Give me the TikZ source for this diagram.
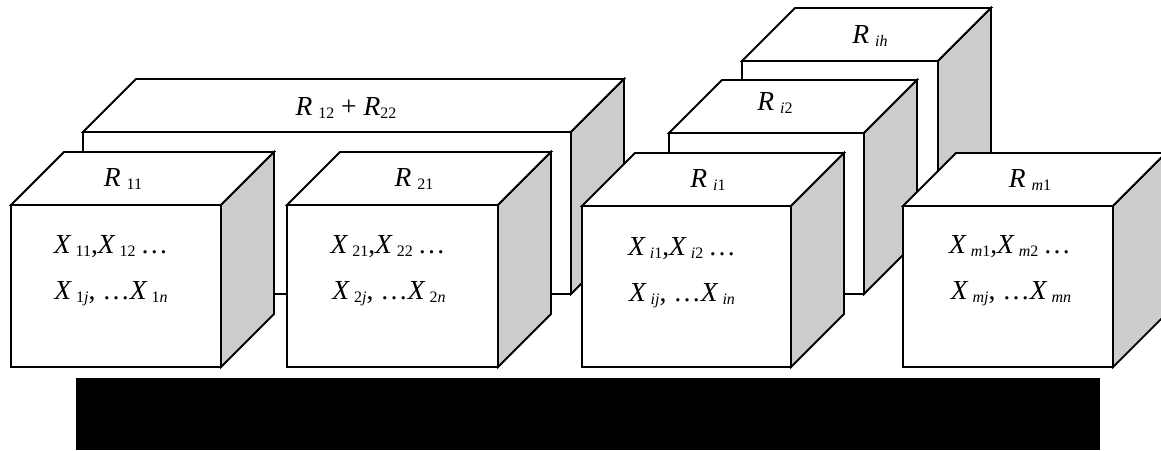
\documentclass[tikz,border=0pt]{standalone}
\usepackage{fontspec}
\setmainfont{Liberation Serif}
\definecolor{sidegrey}{RGB}{204,204,204}
\newcommand\lo[1]{\raisebox{-3pt}{\fontsize{16}{16}\selectfont #1}}
\newcommand\cubebox[4]{%
  \path[boxline,fill=white] (#1,#2) rectangle ++(#3,#4);
  \path[boxline,fill=white] (#1,#2) -- ++(53,-53) -- ++(#3,0) -- ++(-53,53) -- cycle;
  \path[boxline,fill=sidegrey] (#1+#3,#2) -- ++(53,-53) -- ++(0,#4) -- ++(-53,53) -- cycle;
}
\begin{document}
\begin{tikzpicture}[x=1pt,y=-1pt,
  boxline/.style={draw=black,line width=1.8pt,line join=miter},
  lbl/.style={anchor=base,inner sep=0pt,font=\fontsize{27.5}{29}\selectfont}]
\useasboundingbox (0,0) rectangle (1161,450);
\clip (0,0) rectangle (1161,450);
% back boxes
\cubebox{742}{61}{196}{162}
\cubebox{83}{132}{488}{162}
\cubebox{669}{133}{195}{161}
% front boxes
\cubebox{11}{205}{210}{162}
\cubebox{287}{205}{211}{162}
\cubebox{582}{206}{209}{161}
\cubebox{903}{206}{210}{161}
% base
\fill[black] (76,378) rectangle (1100,450);
% labels
\node[lbl] (rih) at (870,43) {\textit{R}\hspace{6pt}\lo{\textit{ih}}};
\node[lbl] (rsum) at (346,115) {\textit{R}\hspace{6pt}\lo{12} + \textit{R}\lo{22}};
\node[lbl] (ri2) at (775,110) {\textit{R}\hspace{6pt}\lo{\textit{i}2}};
\node[lbl] (r11) at (123,186) {\textit{R}\hspace{6pt}\lo{11}};
\node[lbl] (r21) at (414,186) {\textit{R}\hspace{6pt}\lo{21}};
\node[lbl] (ri1) at (708,187) {\textit{R}\hspace{6pt}\lo{\textit{i}1}};
\node[lbl] (rm1) at (1030,187) {\textit{R}\hspace{6pt}\lo{\textit{m}1}};
% contents
\node[lbl] (a1) at (111,253) {\textit{X}\hspace{4pt}\lo{11},\textit{X}\hspace{4pt}\lo{12}\hspace{5pt}\ldots};
\node[lbl] (a2) at (111,299) {\textit{X}\hspace{4pt}\lo{1\textit{j}}, \ldots\textit{X}\hspace{4pt}\lo{1\textit{n}}};
\node[lbl] (b1) at (388,253) {\textit{X}\hspace{4pt}\lo{21},\textit{X}\hspace{4pt}\lo{22}\hspace{5pt}\ldots};
\node[lbl] (b2) at (389,299) {\textit{X}\hspace{4pt}\lo{2\textit{j}}, \ldots\textit{X}\hspace{4pt}\lo{2\textit{n}}};
\node[lbl] (c1) at (682,255) {\textit{X}\hspace{4pt}\lo{\textit{i}1},\textit{X}\hspace{4pt}\lo{\textit{i}2}\hspace{5pt}\ldots};
\node[lbl] (c2) at (682,301) {\textit{X}\hspace{4pt}\lo{\textit{ij}}, \ldots\textit{X}\hspace{4pt}\lo{\textit{in}}};
\node[lbl] (d1) at (1010,253) {\textit{X}\hspace{4pt}\lo{\textit{m}1},\textit{X}\hspace{4pt}\lo{\textit{m}2}\hspace{5pt}\ldots};
\node[lbl] (d2) at (1011,299) {\textit{X}\hspace{4pt}\lo{\textit{mj}}, \ldots\textit{X}\hspace{4pt}\lo{\textit{mn}}};
\end{tikzpicture}
\end{document}
